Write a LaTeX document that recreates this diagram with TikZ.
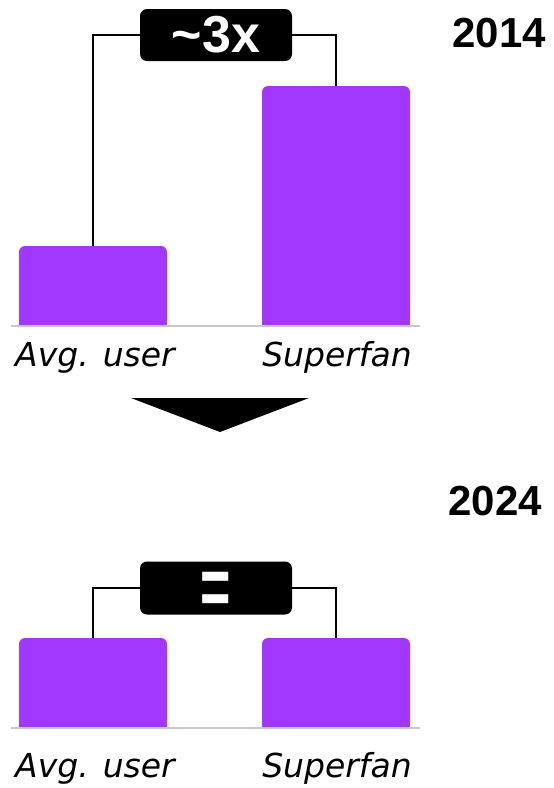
\documentclass[tikz,border=0pt]{standalone}
\usepackage{fontspec}
\setmainfont{Liberation Sans}
\newfontfamily\labelfont{DejaVu Sans}
\usetikzlibrary{positioning}
\definecolor{barpurple}{HTML}{A238FF}
\definecolor{axisgray}{HTML}{C8C8C8}

\begin{document}
\begin{tikzpicture}[x=1pt,y=-1pt,
    bar/.style={fill=barpurple,rounded corners=6pt,minimum width=148pt,inner sep=0pt},
    ratio/.style={fill=black,text=white,rounded corners=7pt,minimum width=152pt,
      minimum height=52pt,inner sep=0pt,font=\bfseries\fontsize{52}{52}\selectfont},
    who/.style={anchor=base,font=\labelfont\itshape\fontsize{33}{33}\selectfont},
    year/.style={anchor=base west,font=\bfseries\fontsize{42}{42}\selectfont},
    axis/.style={draw=axisgray,line width=2pt},
    link/.style={draw=black,line width=1.2pt}]
  \useasboundingbox (0,0) rectangle (554,788);

  % 2014
  \node[year] (y14) at (449,47) {2014};
  \node[ratio] (r14) at (216,35) {\textasciitilde3x};
  \node[bar,minimum height=80pt] (avg14) at (93,286) {};
  \node[bar,minimum height=240pt] (fan14) at (336,206) {};
  \fill[barpurple] (avg14.west) rectangle (avg14.south east);
  \fill[barpurple] (fan14.west) rectangle (fan14.south east);
  \path[link] (r14.west) -| (avg14.north);
  \path[link] (r14.east) -| (fan14.north);
  \draw[axis] (11,326) -- (420,326);
  \node[who] (n14a) at (95,366) {Avg. user};
  \node[who] (n14b) at (337,366) {Superfan};

  % arrow down
  \fill (131,398) -- (309,398) -- (220,432) -- cycle;

  % 2024
  \node[year] (y24) at (445,515) {2024};
  \node[ratio,minimum height=53pt] (r24) at (216,588)
    {\raisebox{-27pt}[0pt][0pt]{\scalebox{1}[1.6]{=}}};
  \node[bar,minimum height=90pt] (avg24) at (93,683) {};
  \node[bar,minimum height=90pt] (fan24) at (336,683) {};
  \fill[barpurple] (avg24.west) rectangle (avg24.south east);
  \fill[barpurple] (fan24.west) rectangle (fan24.south east);
  \path[link] (r24.west) -| (avg24.north);
  \path[link] (r24.east) -| (fan24.north);
  \draw[axis] (11,728) -- (420,728);
  \node[who] (n24a) at (95,777) {Avg. user};
  \node[who] (n24b) at (337,777) {Superfan};
\end{tikzpicture}
\end{document}
